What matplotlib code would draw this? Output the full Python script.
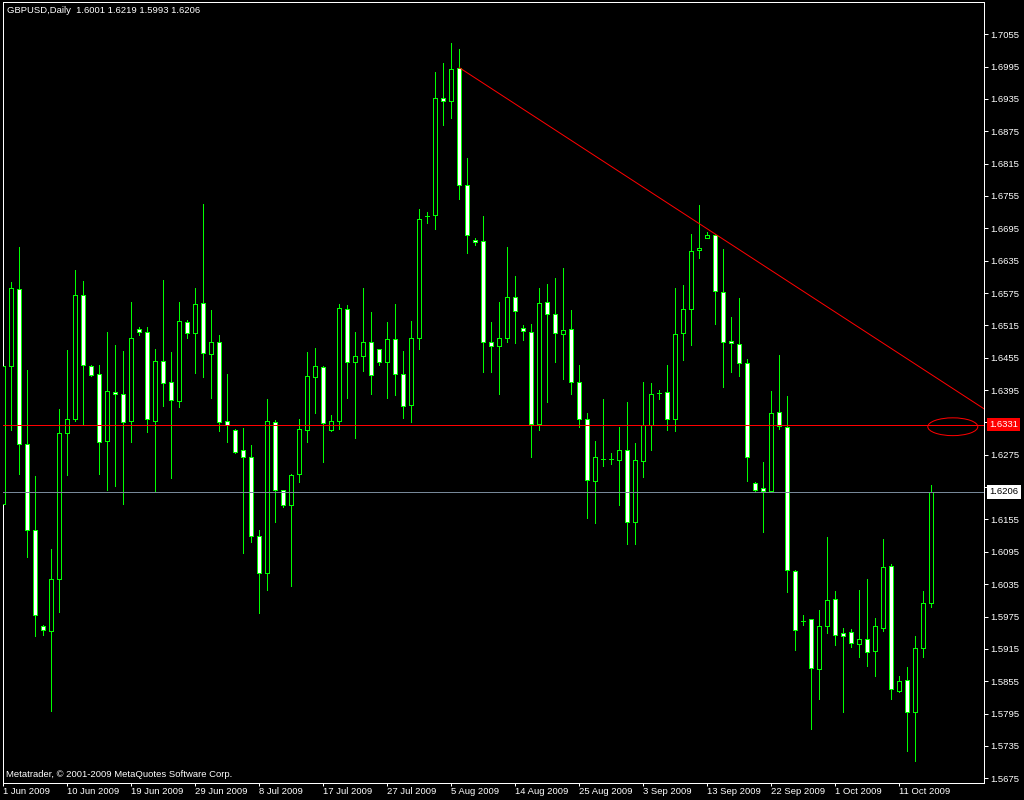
import matplotlib
matplotlib.use('Agg')
import matplotlib.pyplot as plt
from matplotlib.patches import Ellipse

# GBPUSD daily bars, 1 Jun 2009 .. 16 Oct 2009
opens = [1.6184, 1.6440, 1.6582, 1.6295, 1.6136, 1.5957, 1.5948, 1.6044, 1.6316, 1.6342,
         1.6571, 1.6440, 1.6425, 1.6301, 1.6392, 1.6388, 1.6338, 1.6508, 1.6503, 1.6338,
         1.6449, 1.6410, 1.6375, 1.6521, 1.6501, 1.6556, 1.6462, 1.6484, 1.6338, 1.6321,
         1.6283, 1.6270, 1.6125, 1.6055, 1.6336, 1.6209, 1.6181, 1.6240, 1.6321, 1.6419,
         1.6438, 1.6321, 1.6338, 1.6545, 1.6447, 1.6458, 1.6484, 1.6471, 1.6447, 1.6490,
         1.6425, 1.6368, 1.6492, 1.6717, 1.6719, 1.6936, 1.6932, 1.6993, 1.6775, 1.6673,
         1.6671, 1.6484, 1.6477, 1.6492, 1.6567, 1.6510, 1.6503, 1.6332, 1.6558, 1.6536,
         1.6499, 1.6508, 1.6410, 1.6342, 1.6227, 1.6268, 1.6267, 1.6266, 1.6283, 1.6151,
         1.6264, 1.6331, 1.6390, 1.6392, 1.6342, 1.6501, 1.6545, 1.6654, 1.6677, 1.6682,
         1.6577, 1.6486, 1.6480, 1.6445, 1.6223, 1.6214, 1.6207, 1.6355, 1.6327, 1.6060,
         1.5966, 1.5970, 1.5877, 1.5957, 1.6007, 1.5944, 1.5946, 1.5924, 1.5933, 1.5911,
         1.5953, 1.6068, 1.5837, 1.5857, 1.5798, 1.5917, 1.6001]
highs = [1.6495, 1.6595, 1.6660, 1.6432, 1.6236, 1.5959, 1.6101, 1.6360, 1.6469, 1.6617,
         1.6597, 1.6442, 1.6442, 1.6503, 1.6479, 1.6468, 1.6558, 1.6512, 1.6512, 1.6471,
         1.6599, 1.6466, 1.6558, 1.6525, 1.6584, 1.6741, 1.6543, 1.6497, 1.6425, 1.6323,
         1.6325, 1.6294, 1.6136, 1.6379, 1.6340, 1.6210, 1.6240, 1.6342, 1.6466, 1.6473,
         1.6440, 1.6349, 1.6554, 1.6552, 1.6503, 1.6584, 1.6540, 1.6471, 1.6521, 1.6554,
         1.6468, 1.6523, 1.6730, 1.6725, 1.6984, 1.7002, 1.7039, 1.7028, 1.6826, 1.6677,
         1.6717, 1.6521, 1.6558, 1.6660, 1.6606, 1.6516, 1.6518, 1.6584, 1.6591, 1.6603,
         1.6621, 1.6543, 1.6442, 1.6353, 1.6301, 1.6379, 1.6279, 1.6327, 1.6373, 1.6297,
         1.6410, 1.6408, 1.6395, 1.6442, 1.6584, 1.6590, 1.6684, 1.6739, 1.6688, 1.6684,
         1.6656, 1.6530, 1.6566, 1.6453, 1.6225, 1.6262, 1.6394, 1.6460, 1.6384, 1.6062,
         1.5977, 1.5970, 1.5987, 1.6123, 1.6022, 1.5953, 1.5951, 1.6024, 1.6044, 1.5972,
         1.6118, 1.6072, 1.5864, 1.5881, 1.5939, 1.6022, 1.6219]
lows = [1.6159, 1.6321, 1.6240, 1.6086, 1.5938, 1.5940, 1.5800, 1.5983, 1.6238, 1.6338,
        1.6332, 1.6421, 1.6240, 1.6209, 1.6218, 1.6184, 1.6299, 1.6497, 1.6318, 1.6207,
        1.6366, 1.6231, 1.6364, 1.6492, 1.6427, 1.6419, 1.6381, 1.6320, 1.6299, 1.6279,
        1.6092, 1.6114, 1.5981, 1.6025, 1.6151, 1.6179, 1.6031, 1.6225, 1.6299, 1.6353,
        1.6262, 1.6320, 1.6323, 1.6381, 1.6306, 1.6430, 1.6388, 1.6442, 1.6381, 1.6386,
        1.6344, 1.6336, 1.6471, 1.6704, 1.6693, 1.6887, 1.6899, 1.6749, 1.6649, 1.6664,
        1.6429, 1.6429, 1.6388, 1.6484, 1.6482, 1.6488, 1.6271, 1.6321, 1.6373, 1.6447,
        1.6416, 1.6388, 1.6327, 1.6157, 1.6149, 1.6255, 1.6257, 1.6181, 1.6110, 1.6110,
        1.6233, 1.6284, 1.6379, 1.6321, 1.6320, 1.6451, 1.6479, 1.6640, 1.6677, 1.6518,
        1.6401, 1.6429, 1.6421, 1.6227, 1.6207, 1.6132, 1.6206, 1.6323, 1.6020, 1.5913,
        1.5959, 1.5766, 1.5822, 1.5944, 1.5922, 1.5798, 1.5918, 1.5900, 1.5883, 1.5865,
        1.5948, 1.5822, 1.5835, 1.5726, 1.5707, 1.5900, 1.5993]
closes = [1.6440, 1.6584, 1.6295, 1.6136, 1.5977, 1.5950, 1.6044, 1.6316, 1.6342, 1.6571,
          1.6442, 1.6423, 1.6299, 1.6394, 1.6388, 1.6336, 1.6492, 1.6503, 1.6342, 1.6449,
          1.6408, 1.6377, 1.6523, 1.6501, 1.6554, 1.6464, 1.6484, 1.6336, 1.6331, 1.6281,
          1.6271, 1.6125, 1.6055, 1.6338, 1.6210, 1.6181, 1.6238, 1.6323, 1.6421, 1.6440,
          1.6334, 1.6338, 1.6547, 1.6447, 1.6458, 1.6484, 1.6423, 1.6447, 1.6490, 1.6425,
          1.6366, 1.6492, 1.6712, 1.6717, 1.6937, 1.6932, 1.6991, 1.6776, 1.6682, 1.6669,
          1.6484, 1.6477, 1.6492, 1.6567, 1.6542, 1.6505, 1.6332, 1.6556, 1.6536, 1.6501,
          1.6506, 1.6410, 1.6342, 1.6229, 1.6270, 1.6268, 1.6267, 1.6284, 1.6151, 1.6266,
          1.6331, 1.6388, 1.6390, 1.6342, 1.6499, 1.6545, 1.6653, 1.6658, 1.6682, 1.6578,
          1.6484, 1.6482, 1.6445, 1.6270, 1.6210, 1.6207, 1.6353, 1.6329, 1.6062, 1.5950,
          1.5966, 1.5879, 1.5957, 1.6005, 1.5940, 1.5938, 1.5925, 1.5933, 1.5909, 1.5957,
          1.6066, 1.5840, 1.5855, 1.5798, 1.5917, 1.6001, 1.6206]

date_labels = ['1 Jun 2009', '10 Jun 2009', '19 Jun 2009', '29 Jun 2009', '8 Jul 2009',
               '17 Jul 2009', '27 Jul 2009', '5 Aug 2009', '14 Aug 2009', '25 Aug 2009',
               '3 Sep 2009', '13 Sep 2009', '22 Sep 2009', '1 Oct 2009', '11 Oct 2009']
price_ticks = [1.5675, 1.5735, 1.5795, 1.5855, 1.5915, 1.5975, 1.6035, 1.6095, 1.6155,
               1.6215, 1.6275, 1.6335, 1.6395, 1.6455, 1.6515, 1.6575, 1.6635, 1.6695,
               1.6755, 1.6815, 1.6875, 1.6935, 1.6995, 1.7055]

level_price = 1.6331
bid_price = 1.6206
trend_bars = [57, 88]
trend_prices = [1.6993, 1.6694]

GREEN = '#00ff00'
RED = '#ff0000'
PX = 0.72  # one pixel in points at dpi 100
FONT = 'Liberation Sans'
FS = 6.8

n = len(closes)
xs = list(range(n))

fig = plt.figure(figsize=(10.24, 8.0), dpi=100, facecolor='black')
ax = fig.add_axes([2.5 / 1024, 17.5 / 800, 981.5 / 1024, 780.5 / 800], facecolor='black')

# wicks, then bodies on top (white = down bar, black = up bar)
ax.vlines(xs, lows, highs, color=GREEN, linewidth=PX, zorder=2, antialiased=False)
bottoms = [min(o, c) for o, c in zip(opens, closes)]
heights = [abs(c - o) for o, c in zip(opens, closes)]
faces = ['black' if c > o else 'white' for o, c in zip(opens, closes)]
ax.bar(xs, heights, bottom=bottoms, width=0.5, color=faces, edgecolor=GREEN,
       linewidth=PX, zorder=3, antialiased=False)

# drawn objects: horizontal level, trend ray, ellipse, bid line
ax.axhline(level_price, color=RED, linewidth=PX, zorder=4, antialiased=False)
slope = (trend_prices[1] - trend_prices[0]) / (trend_bars[1] - trend_bars[0])
x_end = 123
ax.plot([trend_bars[0], x_end], [trend_prices[0], trend_prices[0] + slope * (x_end - trend_bars[0])],
        color=RED, linewidth=PX, zorder=4)
ax.add_patch(Ellipse((118.7, 1.6327), 6.25, 0.0033, fill=False, edgecolor=RED,
                     linewidth=PX, zorder=4))
ax.axhline(bid_price, color='#778899', linewidth=PX, zorder=4, antialiased=False)

ax.set_xlim(-0.1, 122.6)
ax.set_ylim(1.56672, 1.71147)

for s in ax.spines.values():
    s.set_color('white')
    s.set_linewidth(PX)

ax.yaxis.tick_right()
ax.set_yticks(price_ticks)
ax.set_yticklabels([f'{p:.4f}' for p in price_ticks])
ax.set_xticks(list(range(0, n, 8))[:len(date_labels)])
ax.set_xticklabels(date_labels)
ax.tick_params(axis='y', colors='white', length=3, width=PX, pad=1.5, labelsize=FS)
ax.tick_params(axis='x', colors='white', length=2.5, width=PX, pad=0.5, labelsize=FS)
for lbl in ax.get_xticklabels():
    lbl.set_horizontalalignment('left')
    lbl.set_fontfamily(FONT)
for lbl in ax.get_yticklabels():
    lbl.set_fontfamily(FONT)

# price labels on the scale
ax.annotate(f'{level_price:.4f}', xy=(1, level_price), xycoords=('axes fraction', 'data'),
            xytext=(5.5, 0), textcoords='offset pixels', ha='left', va='center',
            color='white', fontsize=FS, family=FONT, annotation_clip=False, zorder=6,
            bbox=dict(boxstyle='square,pad=0.22', facecolor=RED, edgecolor='none'))
ax.annotate(f'{bid_price:.4f}', xy=(1, bid_price), xycoords=('axes fraction', 'data'),
            xytext=(5.5, 0), textcoords='offset pixels', ha='left', va='center',
            color='black', fontsize=FS, family=FONT, annotation_clip=False, zorder=6,
            bbox=dict(boxstyle='square,pad=0.22', facecolor='white', edgecolor='none'))

# header and watermark
header = f'{"GBPUSD,Daily"}  {opens[-1]:.4f} {highs[-1]:.4f} {lows[-1]:.4f} {closes[-1]:.4f}'
ax.text(0.005, 0.9885, header, transform=ax.transAxes, ha='left', va='center',
        color='white', fontsize=FS, family=FONT)
ax.text(0.004, 0.0105, 'Metatrader, \u00a9 2001-2009 MetaQuotes Software Corp.',
        transform=ax.transAxes, ha='left', va='center', color='white', fontsize=FS, family=FONT)

fig.savefig('out.png', dpi=100, facecolor='black')
